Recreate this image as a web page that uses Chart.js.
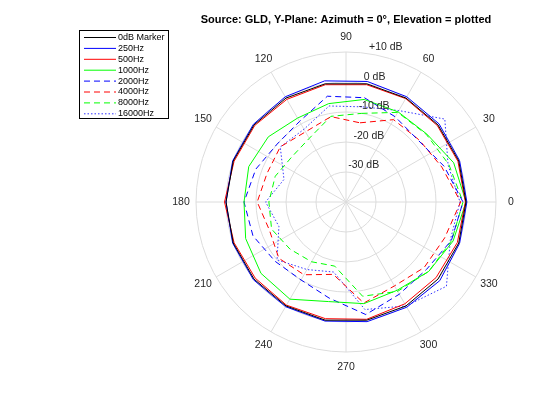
<!DOCTYPE html>
<html><head><meta charset="utf-8">
<script src="https://cdn.jsdelivr.net/npm/chart.js@4"></script>
<style>html,body{margin:0;padding:0;background:#fff}#w{position:relative;width:560px;height:420px}</style>
</head><body><div id="w"><canvas id="c" width="560" height="420"></canvas></div>
<script>
// measured angles (degrees, counterclockwise from right), every 20°
const angles = [0,20,40,60,80,100,120,140,160,180,200,220,240,260,280,300,320,340];
const seriesNames = ['0dB Marker','250Hz','500Hz','1000Hz','2000Hz','4000Hz','8000Hz','16000Hz'];
const marker0dB = [0,0,0,0,0,0,0,0,0,0,0,0,0,0,0,0,0,0];
const hz250   = [0.3,0.3,0.5,0.5,0.8,1,0.5,0.3,0.2,0,0.2,0.3,0.3,0.3,0.5,0.5,0.8,0.3];
const hz500   = [-0.2,-0.3,-0.3,-0.2,-0.3,-0.3,-0.5,-0.3,-0.3,0.5,-0.3,-0.5,-0.3,-0.5,-0.3,-0.8,-0.8,-0.5];
const hz1000  = [0,-1.8,-4.8,-5.3,-5.3,-6.7,-7.7,-6.2,-5.5,-6,-4.4,-3,-2.6,-6.3,-5.6,-6,-4,-2];
const hz2000  = [-1,-5.2,-8.3,-7.2,-4.7,-4.2,-9,-10,-8,-6,-7,-9.2,-10,-7.5,-1.9,-4.5,-5,-2.6];
const hz4000  = [-1.8,-6,-8,-8.3,-13.2,-11.1,-13,-11.4,-12,-10.4,-12.8,-10.8,-12,-15.5,-5.8,-7.7,-6,-5];
const hz8000  = [-1,-3.5,-5,-5.5,-10,-11,-15.5,-16.5,-14.9,-14.3,-13.6,-15.6,-17,-18.3,-8.1,-5.6,-4,-2.5];
const hz16000 = [-2,-3.8,3,-4.8,-7.8,-7.5,-12,-11.4,-18,-13.2,-16.2,-10,-14,-16.3,-3.6,0,3.7,-3];
const rTicks = [10,0,-10,-20,-30];
const rTickLabels = ['+10 dB','0 dB','-10 dB','-20 dB','-30 dB'];
const angleTickLabels = ['0','30','60','90','120','150','180','210','240','270','300','330'];

const allSeries = [marker0dB,hz250,hz500,hz1000,hz2000,hz4000,hz8000,hz16000];
const colors = ['#000000','#0000ff','#ff0000','#00ff00','#0000ff','#ff0000','#00ff00','#3333ff'];
const dashes = [[],[],[],[],[6,4],[6,4],[6,4],[1.5,2]];

// radar index i sits at math angle 90-10i (clockwise from top)
const N = 36;
const labels = [];
for (let i=0;i<N;i++) labels.push(String((90-10*i+720)%360));
function mapSeries(vals){
  const out=[];
  for(let i=0;i<N;i++){
    const a=(90-10*i+720)%360;
    const k=angles.indexOf(a);
    out.push(k>=0?vals[k]:null);
  }
  return out;
}
const datasets = allSeries.map((s,j)=>({
  label: seriesNames[j], data: mapSeries(s), borderColor: colors[j], borderWidth: 1,
  borderDash: dashes[j], fill:false, pointRadius:0, spanGaps:true, tension:0
}));

const deco = {
  id:'deco',
  afterDraw(chart){
    const ctx=chart.ctx, sc=chart.scales.r;
    ctx.save();
    ctx.fillStyle='#262626';
    ctx.font='10.5px "Liberation Sans", Arial, sans-serif';
    ctx.textAlign='center'; ctx.textBaseline='middle';
    for(let i=0;i<N;i+=3){
      const a=(90-10*i+720)%360;
      const p=sc.getPointPosition(i, sc.drawingArea+15);
      ctx.fillText(String(a), p.x, p.y);
    }
    ctx.textAlign='left';
    rTicks.forEach((v,k)=>{
      const d=sc.getDistanceFromCenterForValue(v);
      const t=80*Math.PI/180;
      ctx.fillText(rTickLabels[k], sc.xCenter+d*Math.cos(t)-3, sc.yCenter-d*Math.sin(t)-7);
    });
    // title
    ctx.fillStyle='#000';
    ctx.font='bold 11px "Liberation Sans", Arial, sans-serif';
    ctx.textAlign='center';
    ctx.fillText('Source: GLD, Y-Plane: Azimuth = 0°, Elevation = plotted', 346, 20);
    // legend
    ctx.fillStyle='#fff'; ctx.fillRect(79.5,30.5,89,88);
    ctx.strokeStyle='#000'; ctx.lineWidth=1; ctx.setLineDash([]);
    ctx.strokeRect(79.5,30.5,89,88);
    ctx.font='9px "Liberation Sans", Arial, sans-serif';
    ctx.textBaseline='middle';
    seriesNames.forEach((n,j)=>{
      const y=37.5+j*10.9;
      ctx.strokeStyle=colors[j]; ctx.setLineDash(dashes[j]);
      ctx.beginPath(); ctx.moveTo(84,y); ctx.lineTo(116,y); ctx.stroke();
      ctx.setLineDash([]); ctx.fillStyle='#000'; ctx.textAlign='left';
      ctx.fillText(n,118,y);
    });
    ctx.restore();
  }
};

new Chart(document.getElementById('c'),{
  type:'radar',
  data:{labels, datasets},
  options:{
    responsive:false, animation:false,
    layout:{padding:{left:196,right:64,top:52,bottom:68}},
    plugins:{legend:{display:false},tooltip:{enabled:false}},
    elements:{line:{tension:0}},
    scales:{r:{
      min:-40,max:10,startAngle:0,
      ticks:{display:false,stepSize:10},
      pointLabels:{display:false},
      grid:{circular:true,color:'#dcdcdc',lineWidth:1},
      angleLines:{display:true,lineWidth:1,color:(c)=> (c.index%3===0)?'#dcdcdc':'rgba(0,0,0,0)'}
    }}
  },
  plugins:[deco]
});
</script></body></html>
